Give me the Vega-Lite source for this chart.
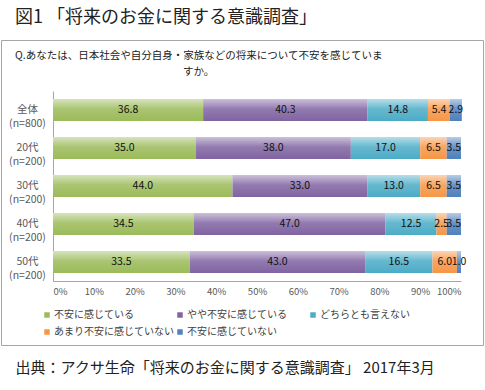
{
  "$schema": "https://vega.github.io/schema/vega-lite/v6.json",
  "width": 482,
  "height": 305,
  "autosize": {"type": "none"},
  "padding": {"left": 1, "top": 40, "right": 2, "bottom": 45},
  "background": "white",
  "config": {
    "font": "Noto Sans CJK JP",
    "view": {"stroke": "#a6a6a6", "strokeWidth": 1}
  },
  "title": {
    "text": "図1 「将来のお金に関する意識調査」",
    "subtitle": ["Q.あなたは、日本社会や自分自身・家族などの将来について不安を感じていま", "\u200b　　　　　　　　　　　　　　　　すか。"],
    "anchor": "start",
    "frame": "group",
    "orient": "top",
    "dx": 14,
    "offset": -37,
    "fontSize": 18,
    "fontWeight": "normal",
    "color": "#222222",
    "subtitleFontSize": 10.5,
    "subtitleColor": "#222222",
    "subtitleLineHeight": 16,
    "subtitlePadding": 24
  },
  "data": {
    "values": [
      {"group": "全体|(n=800)", "cat": "不安に感じている", "order": 1, "v": 36.8},
      {"group": "全体|(n=800)", "cat": "やや不安に感じている", "order": 2, "v": 40.3},
      {"group": "全体|(n=800)", "cat": "どちらとも言えない", "order": 3, "v": 14.8},
      {"group": "全体|(n=800)", "cat": "あまり不安に感じていない", "order": 4, "v": 5.4},
      {"group": "全体|(n=800)", "cat": "不安に感じていない", "order": 5, "v": 2.9},
      {"group": "20代|(n=200)", "cat": "不安に感じている", "order": 1, "v": 35.0},
      {"group": "20代|(n=200)", "cat": "やや不安に感じている", "order": 2, "v": 38.0},
      {"group": "20代|(n=200)", "cat": "どちらとも言えない", "order": 3, "v": 17.0},
      {"group": "20代|(n=200)", "cat": "あまり不安に感じていない", "order": 4, "v": 6.5},
      {"group": "20代|(n=200)", "cat": "不安に感じていない", "order": 5, "v": 3.5},
      {"group": "30代|(n=200)", "cat": "不安に感じている", "order": 1, "v": 44.0},
      {"group": "30代|(n=200)", "cat": "やや不安に感じている", "order": 2, "v": 33.0},
      {"group": "30代|(n=200)", "cat": "どちらとも言えない", "order": 3, "v": 13.0},
      {"group": "30代|(n=200)", "cat": "あまり不安に感じていない", "order": 4, "v": 6.5},
      {"group": "30代|(n=200)", "cat": "不安に感じていない", "order": 5, "v": 3.5},
      {"group": "40代|(n=200)", "cat": "不安に感じている", "order": 1, "v": 34.5},
      {"group": "40代|(n=200)", "cat": "やや不安に感じている", "order": 2, "v": 47.0},
      {"group": "40代|(n=200)", "cat": "どちらとも言えない", "order": 3, "v": 12.5},
      {"group": "40代|(n=200)", "cat": "あまり不安に感じていない", "order": 4, "v": 2.5},
      {"group": "40代|(n=200)", "cat": "不安に感じていない", "order": 5, "v": 3.5},
      {"group": "50代|(n=200)", "cat": "不安に感じている", "order": 1, "v": 33.5},
      {"group": "50代|(n=200)", "cat": "やや不安に感じている", "order": 2, "v": 43.0},
      {"group": "50代|(n=200)", "cat": "どちらとも言えない", "order": 3, "v": 16.5},
      {"group": "50代|(n=200)", "cat": "あまり不安に感じていない", "order": 4, "v": 6.0},
      {"group": "50代|(n=200)", "cat": "不安に感じていない", "order": 5, "v": 1.0}
    ]
  },
  "transform": [
    {"stack": "v", "groupby": ["group"], "sort": [{"field": "order", "order": "ascending"}], "as": ["v0", "v1"]}
  ],
  "encoding": {
    "y": {
      "field": "group",
      "type": "nominal",
      "sort": ["全体|(n=800)", "20代|(n=200)", "30代|(n=200)", "40代|(n=200)", "50代|(n=200)"],
      "scale": {"range": [51, 241], "paddingInner": 0.42, "paddingOuter": 0.21},
      "axis": {
        "title": null,
        "offset": -52,
        "ticks": false,
        "domainColor": "#a6a6a6",
        "labelExpr": "split(datum.label, '|')",
        "labelAlign": "center",
        "labelBaseline": "middle",
        "labelPadding": 26,
        "labelFontSize": 10.5,
        "labelColor": "#595959",
        "labelLineHeight": 14
      }
    }
  },
  "layer": [
    {
      "mark": {"type": "bar"},
      "encoding": {
        "x": {
          "field": "v0",
          "type": "quantitative",
          "scale": {"domain": [0, 100], "range": [52, 460], "nice": false, "zero": true},
          "axis": {
            "values": [0, 10, 20, 30, 40, 50, 60, 70, 80, 90, 100],
            "labelExpr": "datum.value + '%'",
            "grid": false,
            "ticks": false,
            "domainColor": "#a6a6a6",
            "offset": -64,
            "labelFontSize": 9.5,
            "labelColor": "#595959",
            "labelPadding": 5,
            "title": "出典：アクサ生命「将来のお金に関する意識調査」 2017年3月",
            "titleFontSize": 15,
            "titleFontWeight": "normal",
            "titleColor": "#222222",
            "titleX": 14,
            "titleY": 86,
            "titleAlign": "left",
            "titleAnchor": "start",
            "titleBaseline": "middle"
          }
        },
        "x2": {"field": "v1"},
        "color": {
          "field": "cat",
          "type": "nominal",
          "scale": {
            "domain": ["不安に感じている", "やや不安に感じている", "どちらとも言えない", "あまり不安に感じていない", "不安に感じていない"],
            "range": ["#9bbb59", "#8064a2", "#4bacc6", "#f79646", "#4f81bd"]
          },
          "legend": {
            "orient": "none",
            "legendX": 41,
            "legendY": 270,
            "direction": "horizontal",
            "columns": 3,
            "gridAlign": "all",
            "title": null,
            "symbolType": "square",
            "symbolSize": 30,
            "symbolStrokeWidth": 0,
            "labelFontSize": 10,
            "labelColor": "#404040",
            "labelOffset": 2,
            "columnPadding": 1,
            "rowPadding": 7,
            "labelLimit": 200
          }
        }
      }
    },
    {
      "mark": {
        "type": "bar",
        "fill": {
          "gradient": "linear",
          "x1": 0, "y1": 0, "x2": 0, "y2": 1,
          "stops": [
            {"offset": 0, "color": "rgba(255,255,255,0.6)"},
            {"offset": 0.45, "color": "rgba(255,255,255,0.15)"},
            {"offset": 1, "color": "rgba(255,255,255,0)"}
          ]
        }
      },
      "encoding": {
        "x": {"field": "v0", "type": "quantitative"},
        "x2": {"field": "v1"}
      }
    },
    {
      "transform": [
        {"fold": ["v0", "v1"], "as": ["edge", "pos"]},
        {"aggregate": [{"op": "mean", "field": "pos", "as": "mid"}], "groupby": ["group", "cat", "v"]}
      ],
      "mark": {"type": "text", "fontSize": 10.5, "color": "#111111"},
      "encoding": {
        "x": {"field": "mid", "type": "quantitative"},
        "text": {"field": "v", "type": "quantitative", "format": ".1f"}
      }
    }
  ]
}
